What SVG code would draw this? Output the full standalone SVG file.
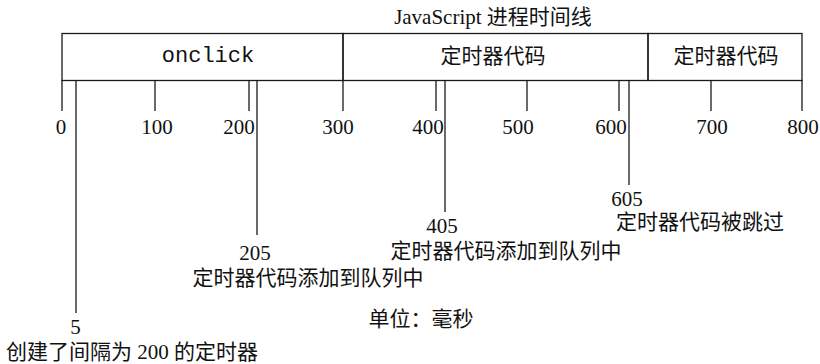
<svg xmlns="http://www.w3.org/2000/svg" width="820" height="364" viewBox="0 0 820 364">
<style>
.ln{stroke:#1a1a1a;stroke-width:1.3;fill:none}
.t{font-family:"Liberation Serif","Noto Sans CJK SC",serif;font-size:21px;fill:#111;text-anchor:middle}
.c{font-family:"Liberation Serif","Noto Sans CJK SC",serif;font-size:21px;fill:#111;text-anchor:middle}
.m{font-family:"Liberation Mono",monospace;font-size:22px;fill:#111;text-anchor:middle}
</style>
<rect width="820" height="364" fill="#fff"/>
<text class="c" x="493" y="24">JavaScript 进程时间线</text>
<g id="seg-onclick">
<rect class="ln" x="62" y="33.5" width="281" height="47"/>
<text class="m" x="208" y="62">onclick</text>
</g>
<g id="seg-timer1">
<rect class="ln" x="343" y="33.5" width="305" height="47"/>
<text class="c" x="493" y="63">定时器代码</text>
</g>
<g id="seg-timer2">
<rect class="ln" x="648" y="33.5" width="154" height="47"/>
<text class="c" x="726" y="63">定时器代码</text>
</g>
<g id="connectors">
<line class="ln" x1="62" y1="80" x2="62" y2="111"/>
<line class="ln" x1="155" y1="80" x2="155" y2="111"/>
<line class="ln" x1="249" y1="80" x2="249" y2="111"/>
<line class="ln" x1="343" y1="80" x2="343" y2="111"/>
<line class="ln" x1="436" y1="80" x2="436" y2="111"/>
<line class="ln" x1="527" y1="80" x2="527" y2="111"/>
<line class="ln" x1="619" y1="80" x2="619" y2="111"/>
<line class="ln" x1="711" y1="80" x2="711" y2="111"/>
<line class="ln" x1="802" y1="80" x2="802" y2="111"/>
<line class="ln" x1="76" y1="80" x2="76" y2="313"/>
<line class="ln" x1="257" y1="80" x2="257" y2="235"/>
<line class="ln" x1="445" y1="80" x2="445" y2="212"/>
<line class="ln" x1="629" y1="80" x2="629" y2="185"/>
</g>
<g id="ticks">
<text class="t" x="61" y="134">0</text>
<text class="t" x="157" y="134">100</text>
<text class="t" x="239" y="134">200</text>
<text class="t" x="338" y="134">300</text>
<text class="t" x="428" y="134">400</text>
<text class="t" x="518" y="134">500</text>
<text class="t" x="611" y="134">600</text>
<text class="t" x="712" y="134">700</text>
<text class="t" x="803" y="134">800</text>
</g>
<g id="ev5">
<text class="t" x="75.5" y="334">5</text>
<text class="c" x="132" y="359">创建了间隔为 200 的定时器</text>
</g>
<g id="ev205">
<text class="t" x="255" y="260">205</text>
<text class="c" x="308" y="285">定时器代码添加到队列中</text>
</g>
<g id="ev405">
<text class="t" x="442" y="233">405</text>
<text class="c" x="506" y="258">定时器代码添加到队列中</text>
</g>
<g id="ev605">
<text class="t" x="627" y="206">605</text>
<text class="c" x="700" y="229">定时器代码被跳过</text>
</g>
<g id="unit">
<text class="c" x="421" y="326">单位：毫秒</text>
</g>
</svg>
